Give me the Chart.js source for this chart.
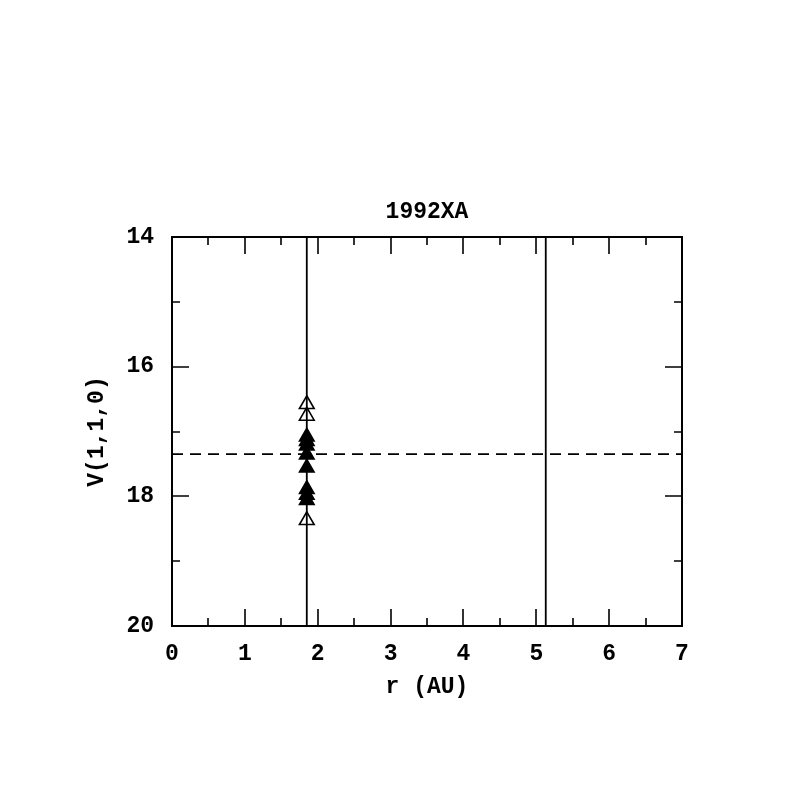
<!DOCTYPE html>
<html>
<head>
<meta charset="utf-8">
<script src="https://cdn.jsdelivr.net/npm/chart.js@4"></script>
<style>
  html, body { margin: 0; padding: 0; background: #fff; }
  #wrap { width: 797px; height: 797px; }
</style>
</head>
<body>
<div id="wrap"><canvas id="chart" width="797" height="797"></canvas></div>
<script>
// observations, all at the same heliocentric distance
const openR = [1.85, 1.85, 1.85];
const openV = [16.58, 16.76, 18.37];
const filledR = [1.85, 1.85, 1.85, 1.85, 1.85, 1.85, 1.85, 1.85];
const filledV = [17.08, 17.15, 17.22, 17.36, 17.56, 17.89, 17.98, 18.06];

// reference lines
const vLineR = [1.85, 5.13];
const hLineV = 17.35;

const xMin = 0, xMax = 7;
const yMin = 14, yMax = 20;
const xMajor = [0, 1, 2, 3, 4, 5, 6, 7];
const xMinor = [0.5, 1.5, 2.5, 3.5, 4.5, 5.5, 6.5];
const yMajor = [14, 16, 18, 20];
const yMinor = [15, 17, 19];

const titleText = "1992XA";
const xTitle = "r (AU)";
const yTitle = "V(1,1,0)";

const FAMILY = "'Liberation Mono', 'DejaVu Sans Mono', monospace";
const FSIZE = 23;

const pts = (xs, ys) => xs.map((x, i) => ({ x: x, y: ys[i] }));

const datasets = [];
vLineR.forEach(r => {
  datasets.push({
    type: "line",
    data: [{ x: r, y: yMin }, { x: r, y: yMax }],
    borderColor: "#000", borderWidth: 1.8, pointRadius: 0, fill: false
  });
});
datasets.push({
  type: "line",
  data: [{ x: xMin, y: hLineV }, { x: xMax, y: hLineV }],
  borderColor: "#000", borderWidth: 1.8, borderDash: [11, 7], pointRadius: 0, fill: false
});
datasets.push({
  type: "scatter",
  data: pts(filledR, filledV),
  pointStyle: "triangle", pointRadius: 8.5,
  backgroundColor: "#000", borderColor: "#000", borderWidth: 1.5
});
datasets.push({
  type: "scatter",
  data: pts(openR, openV),
  pointStyle: "triangle", pointRadius: 8.5,
  backgroundColor: "#fff", borderColor: "#000", borderWidth: 1.6
});

// frame, inward ticks on all four sides, and the titles
const frame = {
  id: "frame",
  afterDraw(chart) {
    const c = chart.ctx, a = chart.chartArea;
    const xs = chart.scales.x, ys = chart.scales.y;
    c.save();
    c.strokeStyle = "#000";
    c.lineWidth = 2;
    c.strokeRect(a.left, a.top, a.right - a.left, a.bottom - a.top);
    c.lineWidth = 1.6;
    c.beginPath();
    const xt = (v, len) => {
      const p = Math.round(xs.getPixelForValue(v));
      c.moveTo(p, a.bottom); c.lineTo(p, a.bottom - len);
      c.moveTo(p, a.top); c.lineTo(p, a.top + len);
    };
    const yt = (v, len) => {
      const p = Math.round(ys.getPixelForValue(v));
      c.moveTo(a.left, p); c.lineTo(a.left + len, p);
      c.moveTo(a.right, p); c.lineTo(a.right - len, p);
    };
    xMajor.forEach(v => xt(v, 17));
    xMinor.forEach(v => xt(v, 8));
    yMajor.forEach(v => yt(v, 17));
    yMinor.forEach(v => yt(v, 8));
    c.stroke();

    const cx = (a.left + a.right) / 2, cy = (a.top + a.bottom) / 2;
    c.fillStyle = "#000";
    c.font = "bold " + FSIZE + "px " + FAMILY;
    c.textAlign = "center";
    c.textBaseline = "middle";
    c.fillText(titleText, cx, a.top - 25);
    c.fillText(xTitle, cx, a.bottom + 61);
    c.translate(a.left - 75, cy);
    c.rotate(-Math.PI / 2);
    c.fillText(yTitle, 0, 0);
    c.restore();
  }
};

new Chart(document.getElementById("chart").getContext("2d"), {
  data: { datasets: datasets },
  options: {
    responsive: false,
    animation: false,
    layout: { padding: { top: 237, right: 115, left: 0, bottom: 0 } },
    plugins: {
      legend: { display: false },
      tooltip: { enabled: false },
      title: { display: false }
    },
    scales: {
      x: {
        type: "linear", min: xMin, max: xMax,
        grid: { display: false },
        border: { display: false },
        ticks: {
          stepSize: 1, color: "#000", padding: 6,
          font: { family: FAMILY, size: FSIZE, weight: "bold" }
        },
        afterFit(s) { s.height = 171; }
      },
      y: {
        type: "linear", min: yMin, max: yMax, reverse: true,
        grid: { display: false },
        border: { display: false },
        ticks: {
          stepSize: 2, color: "#000", padding: 10,
          font: { family: FAMILY, size: FSIZE, weight: "bold" }
        },
        afterFit(s) { s.width = 172; }
      }
    }
  },
  plugins: [frame]
});
</script>
</body>
</html>
